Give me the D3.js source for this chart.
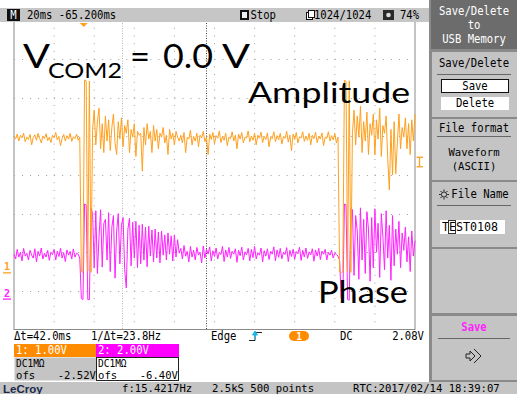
<!DOCTYPE html>
<html><head><meta charset="utf-8">
<script src="https://cdn.jsdelivr.net/npm/d3@7"></script>
<style>body{margin:0;background:#fff}svg{display:block}</style>
</head><body>
<script>
// ---------------- DATA ----------------
// Channel 1 (orange, "Amplitude") samples in volts, one every 0.8 ms across the 200 ms screen
const ch1Values = [
 3.52,3.45,3.58,3.40,3.55,3.48,3.60,3.38,3.50,3.44, 3.57,3.30,3.49,3.56,3.42,3.60,3.47,3.35,3.53,3.46,
 3.59,3.41,3.50,3.36,3.55,3.48,3.62,3.43,3.52,3.28, 3.47,3.57,3.40,3.54,3.45,3.60,3.39,3.51,3.46,3.58,
 3.42,3.50,
 0.02,0.00,4.98,4.96,0.03,4.95,0.00,
 3.70,4.20,3.30,3.90,4.25,3.20,3.85,3.10,4.05,3.40, 3.95,3.15,3.75,4.10,3.35,3.05,3.90,3.45,4.00,3.25,
 3.80,3.60,3.95,3.10,3.70,3.50,3.85,3.00,3.65,3.55,
 3.60,2.62,3.75,3.30,3.85,3.45,3.65,3.10,3.80,3.40, 3.70,3.20,3.60,3.50,3.75,3.35,3.55,3.05,3.70,3.45,
 3.60,3.30,3.65,3.50,3.40,
 3.55,3.35,3.62,3.10,3.50,3.45,3.68,3.30,3.52,3.40, 3.60,3.25,3.55,3.48,3.65,3.38,3.50,3.05,3.58,3.44,
 3.62,3.33,3.54,3.47,3.66,3.36,3.52,3.42,3.60,3.28, 3.50,3.46,3.64,3.40,3.55,3.20,3.58,3.45,3.62,3.35,
 3.50,3.48,3.66,3.38,3.53,3.42,3.60,3.30,3.55,3.47, 3.63,3.36,3.52,3.44,3.61,3.25,3.50,3.46,3.64,3.38,
 3.54,3.43,3.60,3.32,3.52,3.47,3.65,3.37,3.55,3.15, 3.58,3.44,3.62,3.35,3.51,3.48,3.64,3.39,3.53,3.42,
 3.60,3.30,3.55,3.46,3.63,3.36,3.52,3.45,3.61,3.28, 3.50,3.47,3.64,3.40,3.54,3.43,3.60,3.35,3.50,
 0.02,0.00,0.01,4.97,4.95,0.02,4.96,0.00,
 3.60,4.20,3.30,4.05,3.50,4.30,3.10,3.90,3.40,4.15, 3.05,3.85,3.55,4.10,3.04,3.95,3.45,4.25,3.00,3.80,
 3.60,4.05,2.95,2.13,3.70,2.52,3.90,2.55,3.35,4.10, 3.20,3.75,3.50,4.00,3.20,3.85,3.05,3.95,3.40,4.10
];
// Channel 2 (magenta, "Phase") samples in volts
const ch2Values = [
 2.30,2.05,2.55,2.15,2.40,1.95,2.60,2.20,2.35,2.00, 2.50,2.25,2.10,2.58,1.90,2.45,2.20,2.62,2.05,2.35,
 2.15,2.50,1.98,2.40,2.28,2.55,2.00,2.45,2.18,2.60, 2.10,2.38,1.92,2.52,2.25,2.44,2.05,2.57,2.15,2.35,
 2.30,2.10,
 0.00,-0.05,4.90,4.85,-0.05,-0.05,4.70,
 4.40,1.60,4.55,1.30,3.20,4.60,1.63,3.90,4.10,2.00, 4.45,1.40,3.70,4.30,1.06,3.50,4.40,1.80,3.80,4.20,
 1.50,0.55,3.60,4.15,1.70,3.95,2.10,4.00,1.60,3.80,
 1.80,3.85,2.00,3.70,1.65,3.75,2.20,3.55,1.90,3.60, 2.10,3.45,1.85,3.50,2.25,3.30,2.00,3.40,2.30,3.25,
 1.95,3.30,2.15,3.05,2.35,
 2.60,2.05,2.75,2.20,2.45,1.90,2.70,2.15,2.50,2.00, 2.65,2.25,2.40,1.85,2.72,2.10,2.55,2.30,2.68,1.95,
 2.48,2.18,2.62,2.05,2.40,2.28,2.70,1.92,2.52,2.15, 2.65,2.08,2.45,2.30,2.58,1.88,2.50,2.22,2.66,2.00,
 2.42,2.26,2.60,1.95,2.55,2.12,2.70,2.05,2.38,2.25, 2.62,1.90,2.48,2.20,2.58,2.02,2.45,2.30,2.68,1.96,
 2.52,2.14,2.60,2.06,2.40,2.28,2.64,1.92,2.50,2.18, 2.56,2.04,2.44,2.32,2.66,1.98,2.50,2.16,2.62,2.08,
 2.42,2.26,2.58,1.94,2.52,2.20,2.60,2.02,2.46,2.30, 2.55,2.00,2.40,2.25,2.50,2.10,2.35,2.28,2.20,
 2.00,0.00,-0.05,4.90,4.85,-0.05,-0.08,4.70,
 4.60,1.20,4.30,3.50,1.00,4.70,2.00,4.10,1.30,4.50, 3.60,0.90,4.20,1.60,4.65,2.40,3.90,1.10,4.40,3.20,
 1.50,4.55,2.10,3.80,0.95,4.30,1.70,3.60,2.30,4.00, 1.60,3.40,2.50,3.70,1.90,3.20,1.40,3.50,2.20,3.00
];
const sampleStepMs = 0.8;
const timePerDivMs = 20;
const horizDivs = 10, vertDivs = 8;
const triggerTimeMs = 100 - 65.2;        // delay -65.200 ms from centre
const cursorTimesMs = [53.9, 95.9];      // Δt = 42.0 ms
const trigMarkerLevelV = 2.85;
const ch1Setup = {name:"1", voltsPerDiv:1.00, offset:-2.52, color:"#ffa01e", label:"1: 1.00V", coupling:"DC1MΩ", ofs:"-2.52V"};
const ch2Setup = {name:"2", voltsPerDiv:2.00, offset:-6.40, color:"#ff22ff", label:"2: 2.00V", coupling:"DC1MΩ", ofs:"-6.40V"};
const topBarTexts = ["20ms -65.200ms", "Stop", "1024/1024", "74%"];
const infoTexts = ["Δt=42.0ms", "1/Δt=23.8Hz", "Edge", "DC", "2.08V"];
const statusTexts = ["f:15.4217Hz", "2.5kS 500 points", "RTC:2017/02/14 18:39:07"];
const overlayTitle = ["V", "COM2", "=", "0.0", "V"];
const overlayLabels = ["Amplitude", "Phase"];

// ---------------- CHART ----------------
const W = 517, H = 394;
const plot = {l:14, r:415, t:20.5, b:329.5};
const MONO = "'DejaVu Sans Mono','Liberation Mono',monospace";
const SANS = "Lato,'Open Sans','Noto Sans',sans-serif";

const svg = d3.select("body").append("svg").attr("width", W).attr("height", H)
  .style("font-family", MONO);

const x = d3.scaleLinear().domain([0, timePerDivMs*horizDivs]).range([plot.l, plot.r]);
function chScale(c){
  const lo = -vertDivs/2*c.voltsPerDiv - c.offset, hi = vertDivs/2*c.voltsPerDiv - c.offset;
  return d3.scaleLinear().domain([lo, hi]).range([plot.b, plot.t]);
}
const y1 = chScale(ch1Setup), y2 = chScale(ch2Setup);
const yDiv = d3.scaleLinear().domain([-vertDivs/2, vertDivs/2]).range([plot.b, plot.t]);

function mono(g, px, py, s, o={}){
  return g.append("text")
    .attr("transform", `translate(${px},${py}) scale(${o.sx||1},${o.sy||1.15})`)
    .attr("font-family", MONO).attr("font-size", o.size||10.6)
    .attr("fill", o.fill||"#000").attr("text-anchor", o.anchor||"start")
    .attr("font-weight", o.weight||"normal").text(s);
}

// plot frame
const gPlot = svg.append("g");
gPlot.append("rect").attr("x", plot.l).attr("y", plot.t).attr("width", plot.r-plot.l).attr("height", plot.b-plot.t)
  .attr("fill", "#fff").attr("stroke", "#8a8a8a").attr("stroke-width", 1);

// grid (dotted)
const divW = (plot.r-plot.l)/horizDivs, divH = (plot.b-plot.t)/vertDivs;
d3.range(1, horizDivs).forEach(i=>{
  const xx = x(i*timePerDivMs);
  gPlot.append("line").attr("x1", xx).attr("x2", xx).attr("y1", plot.t).attr("y2", plot.b)
    .attr("stroke", "#a0a0a0").attr("stroke-width", 1).attr("stroke-dasharray", `1,${divH/5-1}`)
    .attr("stroke-dashoffset", 0.5);
});
d3.range(-vertDivs/2+1, vertDivs/2).forEach(i=>{
  const yy = Math.round(yDiv(i))+0.5;
  gPlot.append("line").attr("x1", plot.l).attr("x2", plot.r).attr("y1", yy).attr("y2", yy)
    .attr("stroke", "#a0a0a0").attr("stroke-width", 1).attr("stroke-dasharray", `1,${divW/5-1}`);
});

// cursors
gPlot.append("line").attr("x1", Math.round(x(cursorTimesMs[0]))+0.5).attr("x2", Math.round(x(cursorTimesMs[0]))+0.5)
  .attr("y1", plot.t).attr("y2", plot.b).attr("stroke", "#b8b8b8").attr("stroke-dasharray", "1,1.5");
gPlot.append("line").attr("x1", Math.round(x(cursorTimesMs[1]))+0.5).attr("x2", Math.round(x(cursorTimesMs[1]))+0.5)
  .attr("y1", plot.t).attr("y2", plot.b).attr("stroke", "#444").attr("stroke-dasharray", "1,1.5");

// traces
const line1 = d3.line().x((d,i)=>x(i*sampleStepMs)).y(d=>y1(d));
const line2 = d3.line().x((d,i)=>x(i*sampleStepMs)).y(d=>y2(d));
gPlot.append("path").datum(ch2Values).attr("d", line2).attr("fill", "none")
  .attr("stroke", ch2Setup.color).attr("stroke-width", 1);
gPlot.append("path").datum(ch1Values).attr("d", line1).attr("fill", "none")
  .attr("stroke", ch1Setup.color).attr("stroke-width", 1);

// ground markers
[[ch1Setup, y1], [ch2Setup, y2]].forEach(([c, ys])=>{
  const gy = ys(0);
  mono(svg, 4, gy-2, c.name, {fill:c.color, size:10, weight:"bold", sy:1.1});
  svg.append("line").attr("x1", 3).attr("x2", 11).attr("y1", gy+0.5).attr("y2", gy+0.5)
    .attr("stroke", c.color).attr("stroke-width", 1.3);
});
// trigger level marker (right)
{
  const ty = y1(trigMarkerLevelV);
  svg.append("line").attr("x1", 416.5).attr("x2", 423).attr("y1", ty-5).attr("y2", ty-5).attr("stroke", ch1Setup.color).attr("stroke-width", 1.3);
  svg.append("line").attr("x1", 419.5).attr("x2", 419.5).attr("y1", ty-5).attr("y2", ty+4).attr("stroke", ch1Setup.color).attr("stroke-width", 1.3);
  svg.append("line").attr("x1", 416.5).attr("x2", 423).attr("y1", ty+4.5).attr("y2", ty+4.5).attr("stroke", ch1Setup.color).attr("stroke-width", 1.3);
}

// overlay labels (stretched to the reference widths)
const ov = svg.append("g").attr("font-family", SANS).attr("fill", "#000");
const t1 = ov.append("text").attr("y", 68).attr("font-size", 33);
const titleParts = [[23, 27, 33, 0], [48, 74, 22, 10], [130, 20, 33, -10], [163, 50, 33, 0], [222, 28, 33, 0]];
overlayTitle.forEach((s, i)=>{
  const [px, len, fs, dy] = titleParts[i];
  t1.append("tspan").attr("x", px).attr("dy", dy).attr("font-size", fs)
    .attr("textLength", len).attr("lengthAdjust", "spacingAndGlyphs").text(s);
});
ov.append("text").attr("x", 248).attr("y", 103).attr("font-size", 29.5)
  .attr("textLength", 162).attr("lengthAdjust", "spacingAndGlyphs").text(overlayLabels[0]);
ov.append("text").attr("x", 318).attr("y", 303).attr("font-size", 30.5)
  .attr("textLength", 90).attr("lengthAdjust", "spacingAndGlyphs").text(overlayLabels[1]);

// ---------------- top bar ----------------
const gTop = svg.append("g");
gTop.append("rect").attr("x", 0).attr("y", 8).attr("width", 430).attr("height", 14).attr("fill", "#c6c6c6");
gTop.append("rect").attr("x", 7).attr("y", 9).attr("width", 13).attr("height", 12).attr("fill", "#111");
mono(gTop, 13.5, 19, "M", {fill:"#fff", anchor:"middle", size:10.6});
mono(gTop, 27, 19, topBarTexts[0]);
gTop.append("rect").attr("x", 240).attr("y", 10).attr("width", 9).attr("height", 10).attr("fill", "#111");
gTop.append("rect").attr("x", 242).attr("y", 12).attr("width", 5).attr("height", 6).attr("fill", "#eee");
mono(gTop, 250.5, 19, topBarTexts[1]);
gTop.append("rect").attr("x", 306.5).attr("y", 12.5).attr("width", 6).attr("height", 7).attr("fill", "#fff").attr("stroke", "#111");
gTop.append("rect").attr("x", 308.5).attr("y", 10.5).attr("width", 6).attr("height", 7).attr("fill", "#fff").attr("stroke", "#111");
mono(gTop, 314, 19, topBarTexts[2]);
gTop.append("rect").attr("x", 383).attr("y", 10).attr("width", 11).attr("height", 10).attr("fill", "#2a2a2a");
gTop.append("circle").attr("cx", 388.5).attr("cy", 15).attr("r", 2.3).attr("fill", "#ddd");
mono(gTop, 400, 19, topBarTexts[3]);
// trigger position marker
gTop.append("path").attr("d", d3.line()([[x(triggerTimeMs)-4, 23], [x(triggerTimeMs)+4, 23], [x(triggerTimeMs), 27]]))
  .attr("fill", ch1Setup.color);

// ---------------- right panel ----------------
const rp = svg.append("g");
rp.append("rect").attr("x", 429).attr("y", 0).attr("width", 88).attr("height", 394).attr("fill", "#8a8a8a");
rp.append("rect").attr("x", 431).attr("y", 0).attr("width", 86).attr("height", 49).attr("fill", "#6c6c6c");
const sections = [[52,117],[119,180],[182,247],[249,313],[316,380]];
sections.forEach(([a,b])=>{
  rp.append("rect").attr("x", 432).attr("y", a).attr("width", 85).attr("height", b-a).attr("fill", "#c4c4c4");
});
const cx = 474;
mono(rp, cx, 15, "Save/Delete", {fill:"#fff", anchor:"middle"});
mono(rp, cx, 29, "to", {fill:"#fff", anchor:"middle"});
mono(rp, cx, 43, "USB Memory", {fill:"#fff", anchor:"middle"});
mono(rp, cx, 67, "Save/Delete", {anchor:"middle"});
rp.append("line").attr("x1", 437).attr("x2", 511).attr("y1", 74.5).attr("y2", 74.5).attr("stroke", "#666");
rp.append("rect").attr("x", 441.5).attr("y", 79.5).attr("width", 67).attr("height", 13).attr("fill", "#fff").attr("stroke", "#111");
mono(rp, cx+1, 90, "Save", {anchor:"middle"});
rp.append("rect").attr("x", 441).attr("y", 97).attr("width", 68).attr("height", 13).attr("fill", "#fff");
mono(rp, cx+1, 107, "Delete", {anchor:"middle"});
mono(rp, cx, 132, "File format", {anchor:"middle"});
rp.append("line").attr("x1", 437).attr("x2", 511).attr("y1", 136.5).attr("y2", 136.5).attr("stroke", "#666");
mono(rp, cx, 156, "Waveform", {anchor:"middle", sy:1.05});
mono(rp, cx, 170, "(ASCII)", {anchor:"middle", sy:1.05});
mono(rp, cx+6, 198, "File Name", {anchor:"middle"});
// sun/gear symbol
{
  const sx = 444, sy = 194.5;
  rp.append("circle").attr("cx", sx).attr("cy", sy).attr("r", 2.6).attr("fill", "none").attr("stroke", "#222");
  d3.range(8).forEach(k=>{
    const a = k*Math.PI/4;
    rp.append("line").attr("x1", sx+Math.cos(a)*3.2).attr("y1", sy+Math.sin(a)*3.2)
      .attr("x2", sx+Math.cos(a)*5).attr("y2", sy+Math.sin(a)*5).attr("stroke", "#222");
  });
}
rp.append("line").attr("x1", 437).attr("x2", 511).attr("y1", 205.5).attr("y2", 205.5).attr("stroke", "#666");
rp.append("rect").attr("x", 440).attr("y", 220).attr("width", 65).attr("height", 14).attr("fill", "#fff");
mono(rp, 442, 231, "TEST0108", {sx:1.1});
rp.append("rect").attr("x", 448.5).attr("y", 220.5).attr("width", 7).attr("height", 13).attr("fill", "none").attr("stroke", "#333");
mono(rp, cx, 331, "Save", {anchor:"middle", fill:"#ff22ff", weight:"bold"});
rp.append("line").attr("x1", 438).attr("x2", 510).attr("y1", 338.5).attr("y2", 338.5).attr("stroke", "#666");
rp.append("path").attr("d", "M466,354 h4 v-3 l5,5 l-5,5 v-3 h-4 z M474,349 l7,7 l-7,7").attr("fill", "none").attr("stroke", "#222").attr("stroke-width", 1);

// ---------------- bottom info ----------------
const bi = svg.append("g");
mono(bi, 14, 340, infoTexts[0]);
mono(bi, 91, 340, infoTexts[1]);
mono(bi, 211, 340, infoTexts[2]);
bi.append("path").attr("d", "M249,340.5 h6 v-8 h7").attr("fill", "none").attr("stroke", "#222");
bi.append("path").attr("d", "M255,331 l-2.5,4 h5 z M255,333 v7").attr("fill", "#1ab8e8").attr("stroke", "#1ab8e8");
bi.append("rect").attr("x", 289).attr("y", 331).attr("width", 20).attr("height", 10).attr("rx", 5).attr("fill", "#ff8c00");
mono(bi, 299, 339.5, "1", {anchor:"middle", fill:"#fff", size:9.5, weight:"bold"});
mono(bi, 340, 340, infoTexts[3]);
mono(bi, 424, 340, infoTexts[4], {anchor:"end"});

[[ch1Setup, 14, "#ff8c00", "#c4c4c4", false], [ch2Setup, 96, "#ff00ff", "#fff", true]].forEach(([c, bx, head, body, border])=>{
  bi.append("rect").attr("x", bx).attr("y", 344).attr("width", 83).attr("height", 13).attr("fill", head);
  mono(bi, bx+2, 354, c.label, {fill:"#fff"});
  bi.append("rect").attr("x", bx+0.5).attr("y", 357.5).attr("width", 82).attr("height", 23).attr("fill", body)
    .attr("stroke", border ? "#222" : "none");
  mono(bi, bx+2, 367, c.coupling, {size:9.5, sy:1.05});
  mono(bi, bx+2, 379, "ofs", {sy:1.05});
  mono(bi, bx+82, 379, c.ofs, {anchor:"end", sy:1.05});
});

// ---------------- status bar ----------------
const sb = svg.append("g");
sb.append("rect").attr("x", 0).attr("y", 382).attr("width", 517).attr("height", 12).attr("fill", "#c4c4c4");
sb.append("text").attr("x", 3).attr("y", 393).attr("font-family", "'Liberation Sans',Arial").attr("font-weight", "bold")
  .attr("font-size", 11.5).attr("fill", "#1a2a4a").text("LeCroy");
mono(sb, 122, 392, statusTexts[0], {sy:1.05});
mono(sb, 212, 392, statusTexts[1], {sy:1.05});
mono(sb, 353, 392, statusTexts[2], {sy:1.05});
</script>
</body></html>
